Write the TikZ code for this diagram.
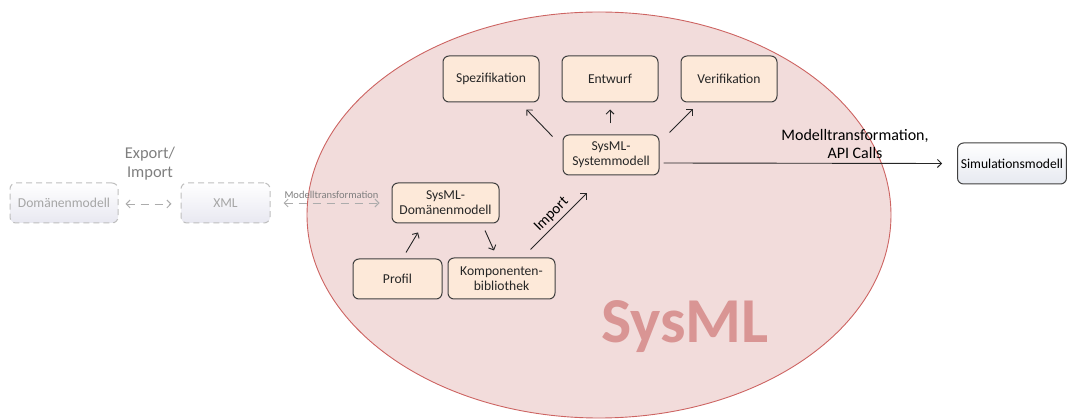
\documentclass[tikz,border=0pt]{standalone}
\usepackage{fontspec}
\setmainfont{Carlito}
\usetikzlibrary{arrows.meta}
\definecolor{ellfill}{HTML}{F2DCDB}
\definecolor{elldraw}{HTML}{CD6462}
\definecolor{boxfill}{HTML}{FDE9D9}
\definecolor{boxdraw}{HTML}{404040}
\definecolor{ghostdraw}{HTML}{BFBFBF}
\definecolor{ghosttext}{HTML}{A6A6A6}
\definecolor{ghostfill}{HTML}{E8E8F1}
\definecolor{labelgray}{HTML}{7F7F7F}
\definecolor{simfill}{HTML}{E6E9F0}
\definecolor{sysmltext}{HTML}{D99594}
\begin{document}
\begin{tikzpicture}[x=1pt,y=-1pt,
  box/.style={draw=boxdraw, fill=boxfill, line width=1pt, rounded corners=6pt,
    align=center, font=\fontsize{13.6}{15}\selectfont, text=black!85, inner sep=1pt},
  ghost/.style={draw=ghostdraw, dashed, dash pattern=on 6pt off 4pt, line width=1pt,
    rounded corners=6pt, top color=white, bottom color=ghostfill, text=ghosttext,
    font=\fontsize{13.6}{15}\selectfont},
  simbox/.style={draw=boxdraw, line width=1pt, rounded corners=6pt,
    top color=white, bottom color=simfill, font=\fontsize{13.6}{15}\selectfont},
  arr/.style={-{Straight Barb[length=4pt,width=8pt]}, line width=0.9pt, draw=black!85},
  garr/.style={{Straight Barb[length=4pt,width=8pt]}-{Straight Barb[length=4pt,width=8pt]},
    line width=0.9pt, draw=ghostdraw!90!black, dash pattern=on 8pt off 6pt},
]
\useasboundingbox (0,0) rectangle (1068,419);

% SysML ellipse
\path[fill=ellfill, draw=elldraw, line width=0.9pt] (599,215) ellipse [x radius=292, y radius=203];
\node (sysml) at (685,327) {\fontsize{64}{66}\selectfont\bfseries\color{sysmltext}SysML};

% ghost nodes
\node[ghost, minimum width=108pt, minimum height=40pt] (dom) at (64,203) {Domänenmodell};
\node[ghost, minimum width=89pt, minimum height=40pt] (xml) at (225.5,203) {XML};
\node[text=labelgray, align=center, font=\fontsize{16.5}{19}\selectfont] (exp) at (150,164) {Export/\\Import};

% SysML nodes
\node[box, minimum width=107pt, minimum height=40pt] (sdom) at (445.5,203) {SysML-\\Domänenmodell};
\node[box, minimum width=89pt, minimum height=40pt] (profil) at (397.5,279) {Profil};
\node[box, minimum width=107pt, minimum height=41pt] (komp) at (501.5,278.5) {Komponenten-\\bibliothek};
\node[box, minimum width=96pt, minimum height=46pt] (spez) at (491,79) {Spezifikation};
\node[box, minimum width=96pt, minimum height=46pt] (entw) at (610,79) {Entwurf};
\node[box, minimum width=96pt, minimum height=46pt] (veri) at (729,79) {Verifikation};
\node[box, minimum width=96pt, minimum height=40pt] (sys) at (611,155) {SysML-\\Systemmodell};
\node[simbox, minimum width=108pt, minimum height=41pt] (sim) at (1012,163.5) {Simulationsmodell};

% ghost connectors
\draw[garr] ([shift={(7,1)}]dom.east) -- ([shift={(-9,1)}]xml.west);
\draw[garr] ([shift={(13,0)}]xml.east) -- ([shift={(-12,0)}]sdom.west)
  node[midway, above=0.5pt, text=labelgray, font=\fontsize{10.5}{11}\selectfont] (mtl) {Modelltransformation};

% connectors
\draw[arr] ([shift={(8.5,-6)}]profil.north) -- ([shift={(-27.5,9)}]sdom.south);
\draw[arr] ([shift={(39.5,7)}]sdom.south) -- ([shift={(-7.5,-7)}]komp.north);
\draw[arr] ([shift={(-25,-8)}]komp.north east) -- ([shift={(24,18)}]sys.south west)
  node[midway, sloped, above=0pt, font=\fontsize{15}{16}\selectfont] (imp) {Import};
\draw[arr] ([shift={(-10,2)}]sys.north west) -- ([shift={(-13,7)}]spez.south east);
\draw[arr] ([shift={(-1,-11)}]sys.north) -- ([shift={(0,7)}]entw.south);
\draw[arr] ([shift={(10,-2)}]sys.north east) -- ([shift={(12,7)}]veri.south west);
\draw[arr] ([shift={(4,8)}]sys.east) -- ([shift={(-15,0)}]sim.west);
\node[align=center, font=\fontsize{16}{18}\selectfont] (mt) at (855,144) {Modelltransformation,\\API Calls};
\end{tikzpicture}
\end{document}
